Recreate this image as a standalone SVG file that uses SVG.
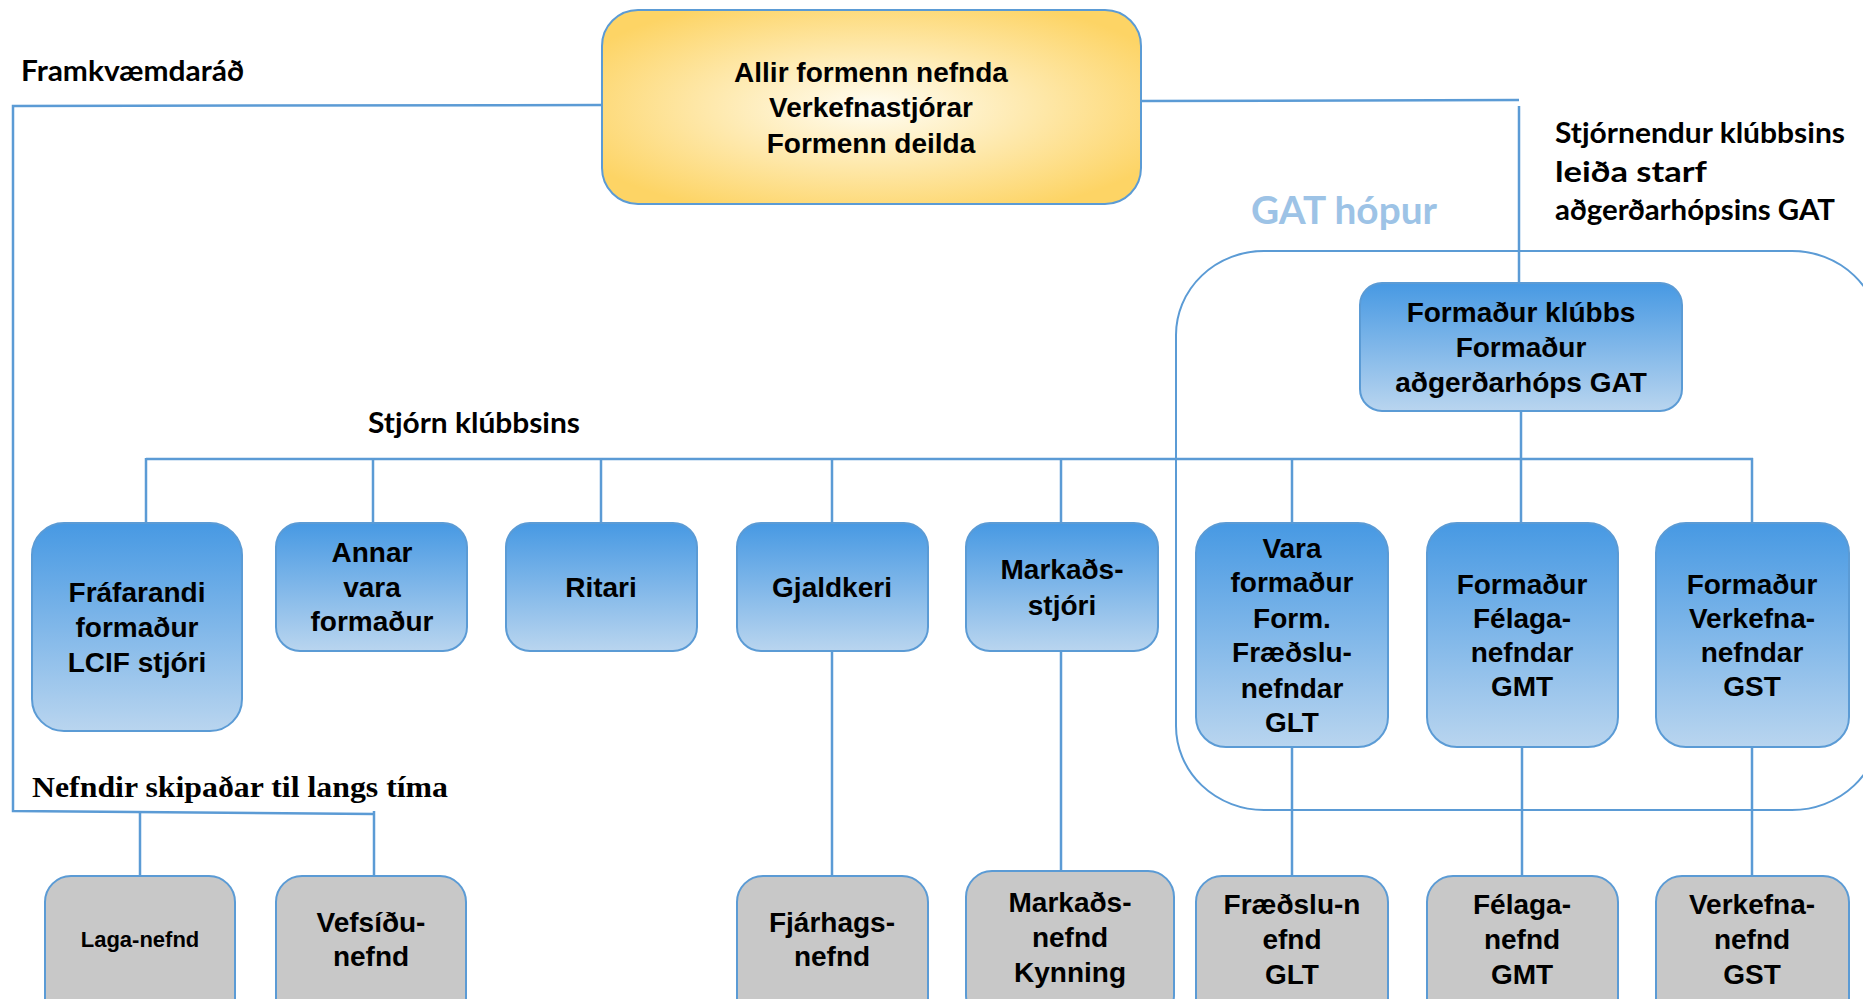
<svg xmlns="http://www.w3.org/2000/svg" width="1863" height="999" viewBox="0 0 1863 999">
<defs>
<linearGradient id="blueG" x1="0" y1="0" x2="0" y2="1">
<stop offset="0" stop-color="#4799e3"/>
<stop offset="1" stop-color="#b9d5ef"/>
</linearGradient>
<radialGradient id="yelG" cx="0.5" cy="0.5" r="0.6">
<stop offset="0" stop-color="#fffdf3"/>
<stop offset="1" stop-color="#fdd465"/>
</radialGradient>
<style>
.conn{fill:none;stroke:#5b9bd5;stroke-width:2.5}
.blue{fill:url(#blueG);stroke:#5b9bd5;stroke-width:2}
.gray{fill:#c8c8c8;stroke:#5b9bd5;stroke-width:2}
.yel{fill:url(#yelG);stroke:#5b9bd5;stroke-width:2}
.t{font-family:"Liberation Sans",Arial,sans-serif;font-weight:bold;font-size:28px;fill:#000;text-anchor:middle}
.s{font-size:22px}
.lab{font-family:Lato,"Open Sans","Liberation Sans",sans-serif;font-weight:bold;font-size:28px;fill:#000}
.gat{font-family:Lato,"Open Sans","Liberation Sans",sans-serif;font-weight:bold;font-size:38px;fill:#9dc3e6}
.serif{font-family:"Liberation Serif","Times New Roman",serif;font-weight:bold;font-size:29px;fill:#000}
</style>
</defs>
<rect width="1863" height="999" fill="#fff"/>

<g id="gat-group">
<rect x="1176" y="251" width="704" height="559" rx="88" ry="84" fill="none" stroke="#5b9bd5" stroke-width="2"/>
<text class="gat" x="1251" y="224" textLength="186" lengthAdjust="spacingAndGlyphs">GAT hópur</text>
</g>

<g id="connectors">
<polyline class="conn" points="602,105 13,106 13,811 374,814"/>
<line class="conn" x1="140" y1="812" x2="140" y2="876"/>
<line class="conn" x1="374" y1="811" x2="374" y2="876"/>
<polyline class="conn" points="1141,101 1519,100"/>
<line class="conn" x1="1519" y1="106" x2="1519" y2="283"/>
<line class="conn" x1="1521" y1="411" x2="1521" y2="523"/>
<line class="conn" x1="146" y1="459" x2="1753" y2="459"/>
<line class="conn" x1="146" y1="458" x2="146" y2="523"/>
<line class="conn" x1="373" y1="458" x2="373" y2="523"/>
<line class="conn" x1="601" y1="458" x2="601" y2="523"/>
<line class="conn" x1="832" y1="458" x2="832" y2="523"/>
<line class="conn" x1="1061" y1="458" x2="1061" y2="523"/>
<line class="conn" x1="1292" y1="458" x2="1292" y2="523"/>
<line class="conn" x1="1752" y1="458" x2="1752" y2="523"/>
<line class="conn" x1="832" y1="651" x2="832" y2="876"/>
<line class="conn" x1="1061" y1="651" x2="1061" y2="871"/>
<line class="conn" x1="1292" y1="747" x2="1292" y2="876"/>
<line class="conn" x1="1522" y1="747" x2="1522" y2="876"/>
<line class="conn" x1="1752" y1="747" x2="1752" y2="876"/>
</g>

<g id="labels">
<text class="lab" x="21" y="81" textLength="223" lengthAdjust="spacingAndGlyphs">Framkvæmdaráð</text>
<text class="lab" x="368" y="433" textLength="212" lengthAdjust="spacingAndGlyphs">Stjórn klúbbsins</text>
<text class="lab" x="1555" y="143" textLength="290" lengthAdjust="spacingAndGlyphs">Stjórnendur klúbbsins</text>
<text class="lab" x="1555" y="182" textLength="152" lengthAdjust="spacingAndGlyphs">leiða starf</text>
<text class="lab" x="1555" y="220" textLength="280" lengthAdjust="spacingAndGlyphs">aðgerðarhópsins GAT</text>
<text class="serif" x="32" y="797" textLength="416" lengthAdjust="spacingAndGlyphs">Nefndir skipaðar til langs tíma</text>
</g>

<g id="n-top">
<rect class="yel" x="602" y="10" width="539" height="194" rx="36"/>
<text class="t" x="871" y="82">Allir formenn nefnda</text>
<text class="t" x="871" y="117">Verkefnastjórar</text>
<text class="t" x="871" y="153">Formenn deilda</text>
</g>

<g id="n-formadur-klubbs">
<rect class="blue" x="1360" y="283" width="322" height="128" rx="22"/>
<text class="t" x="1521" y="322">Formaður klúbbs</text>
<text class="t" x="1521" y="357">Formaður</text>
<text class="t" x="1521" y="392">aðgerðarhóps GAT</text>
</g>

<g id="n-frafarandi">
<rect class="blue" x="32" y="523" width="210" height="208" rx="32"/>
<text class="t" x="137" y="602">Fráfarandi</text>
<text class="t" x="137" y="637">formaður</text>
<text class="t" x="137" y="672">LCIF stjóri</text>
</g>

<g id="n-annar">
<rect class="blue" x="276" y="523" width="191" height="128" rx="24"/>
<text class="t" x="372" y="562">Annar</text>
<text class="t" x="372" y="597">vara</text>
<text class="t" x="372" y="631">formaður</text>
</g>

<g id="n-ritari">
<rect class="blue" x="506" y="523" width="191" height="128" rx="24"/>
<text class="t" x="601" y="597">Ritari</text>
</g>

<g id="n-gjaldkeri">
<rect class="blue" x="737" y="523" width="191" height="128" rx="24"/>
<text class="t" x="832" y="597">Gjaldkeri</text>
</g>

<g id="n-markadsstjori">
<rect class="blue" x="966" y="523" width="192" height="128" rx="24"/>
<text class="t" x="1062" y="579">Markaðs-</text>
<text class="t" x="1062" y="615">stjóri</text>
</g>

<g id="n-varaformadur">
<rect class="blue" x="1196" y="523" width="192" height="224" rx="30"/>
<text class="t" x="1292" y="558">Vara</text>
<text class="t" x="1292" y="592">formaður</text>
<text class="t" x="1292" y="628">Form.</text>
<text class="t" x="1292" y="662">Fræðslu-</text>
<text class="t" x="1292" y="698">nefndar</text>
<text class="t" x="1292" y="732">GLT</text>
</g>

<g id="n-felaga">
<rect class="blue" x="1427" y="523" width="191" height="224" rx="30"/>
<text class="t" x="1522" y="594">Formaður</text>
<text class="t" x="1522" y="628">Félaga-</text>
<text class="t" x="1522" y="662">nefndar</text>
<text class="t" x="1522" y="696">GMT</text>
</g>

<g id="n-verkefna">
<rect class="blue" x="1656" y="523" width="193" height="224" rx="30"/>
<text class="t" x="1752" y="594">Formaður</text>
<text class="t" x="1752" y="628">Verkefna-</text>
<text class="t" x="1752" y="662">nefndar</text>
<text class="t" x="1752" y="696">GST</text>
</g>

<g id="n-laga">
<rect class="gray" x="45" y="876" width="190" height="150" rx="26"/>
<text class="t s" x="140" y="947">Laga-nefnd</text>
</g>

<g id="n-vefsidu">
<rect class="gray" x="276" y="876" width="190" height="150" rx="26"/>
<text class="t" x="371" y="932">Vefsíðu-</text>
<text class="t" x="371" y="966">nefnd</text>
</g>

<g id="n-fjarhags">
<rect class="gray" x="737" y="876" width="191" height="150" rx="26"/>
<text class="t" x="832" y="932">Fjárhags-</text>
<text class="t" x="832" y="966">nefnd</text>
</g>

<g id="n-markadsnefnd">
<rect class="gray" x="966" y="871" width="208" height="150" rx="26"/>
<text class="t" x="1070" y="912">Markaðs-</text>
<text class="t" x="1070" y="947">nefnd</text>
<text class="t" x="1070" y="982">Kynning</text>
</g>

<g id="n-fraedslu">
<rect class="gray" x="1196" y="876" width="192" height="150" rx="26"/>
<text class="t" x="1292" y="914">Fræðslu-n</text>
<text class="t" x="1292" y="949">efnd</text>
<text class="t" x="1292" y="984">GLT</text>
</g>

<g id="n-felaganefnd">
<rect class="gray" x="1427" y="876" width="191" height="150" rx="26"/>
<text class="t" x="1522" y="914">Félaga-</text>
<text class="t" x="1522" y="949">nefnd</text>
<text class="t" x="1522" y="984">GMT</text>
</g>

<g id="n-verkefnanefnd">
<rect class="gray" x="1656" y="876" width="193" height="150" rx="26"/>
<text class="t" x="1752" y="914">Verkefna-</text>
<text class="t" x="1752" y="949">nefnd</text>
<text class="t" x="1752" y="984">GST</text>
</g>
</svg>
